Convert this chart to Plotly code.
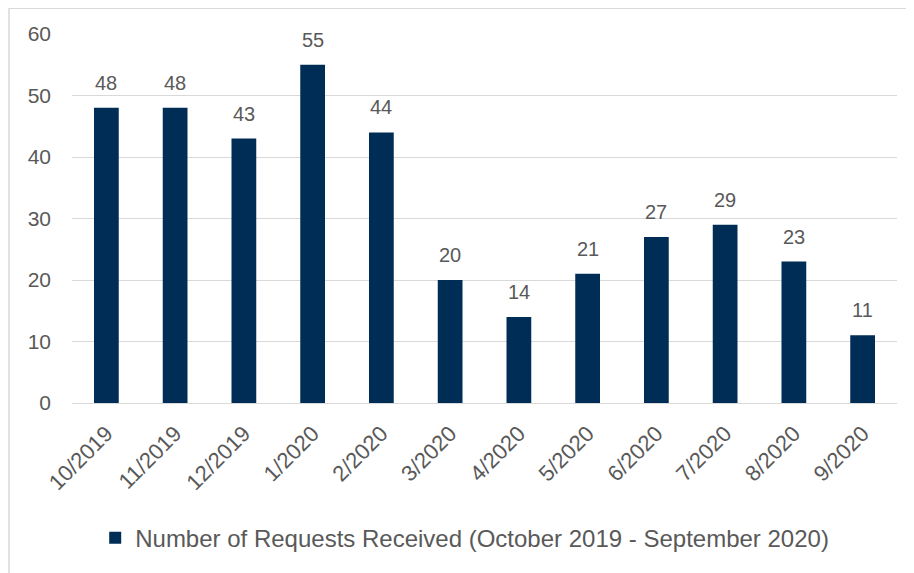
import plotly.graph_objects as go

months = ["10/2019", "11/2019", "12/2019", "1/2020", "2/2020", "3/2020",
          "4/2020", "5/2020", "6/2020", "7/2020", "8/2020", "9/2020"]
requests = [48, 48, 43, 55, 44, 20, 14, 21, 27, 29, 23, 11]

font_family = "Liberation Sans, Arial, sans-serif"
text_grey = "#595959"

# the page body has an 8px margin, so the figure is sized to fit the window
fig_w, fig_h = 906, 565
m_l, m_r, m_t, m_b = 64, 17, 26, 168
plot_w = fig_w - m_l - m_r
plot_h = fig_h - m_t - m_b

fig = go.Figure()
fig.add_trace(
    go.Bar(
        x=months,
        y=requests,
        name="Number of Requests Received (October 2019 - September 2020)",
        marker=dict(color="#002D56", line_width=0),
    )
)

# value labels above the bars
for month, value in zip(months, requests):
    fig.add_annotation(
        x=month,
        y=value,
        text=str(value),
        showarrow=False,
        yanchor="bottom",
        yshift=12,
        font=dict(size=20, color=text_grey, family=font_family),
    )

fig.update_layout(
    width=fig_w,
    height=fig_h,
    margin=dict(l=m_l, r=m_r, t=m_t, b=m_b),
    paper_bgcolor="white",
    plot_bgcolor="white",
    bargap=0.64,
    showlegend=True,
    font=dict(family=font_family, color=text_grey, size=20),
    legend=dict(
        orientation="h",
        x=0.476,
        xanchor="center",
        y=-136 / plot_h,
        yanchor="middle",
        font=dict(size=24, color=text_grey),
    ),
    shapes=[
        dict(type="rect", xref="paper", yref="paper",
             x0=-(m_l - 1) / plot_w, x1=1.2, y0=-0.6, y1=1 + (m_t - 0) / plot_h,
             line=dict(color="#d9d9d9", width=1.5), layer="below"),
    ],
)
fig.update_xaxes(
    tickangle=-45,
    tickfont=dict(size=22, color=text_grey),
    ticklabelstandoff=8,
    showline=True,
    linecolor="#d9d9d9",
    linewidth=1,
    ticks="",
)
fig.update_yaxes(
    range=[0, 60],
    dtick=10,
    showgrid=True,
    gridcolor="#d9d9d9",
    gridwidth=1,
    zeroline=False,
    tickfont=dict(size=21, color=text_grey),
    ticklabelstandoff=20,
)

fig.write_html("out.html")
